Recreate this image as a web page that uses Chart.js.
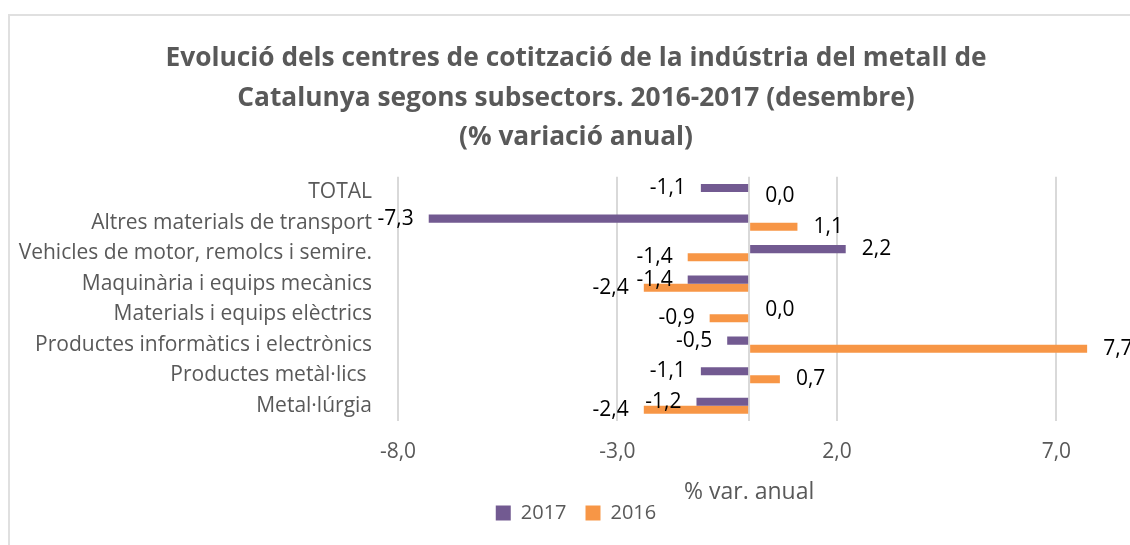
<!DOCTYPE html>
<html>
<head>
<meta charset="utf-8">
<title>Evolució dels centres de cotització</title>
<script src="https://cdn.jsdelivr.net/npm/chart.js@4.4.1/dist/chart.umd.min.js"></script>
<style>
    html, body { margin: 0; padding: 0; background: #fff; overflow: hidden; }
    #frame { position: absolute; left: 8px; top: 14px; width: 1150px; height: 600px; border: 2px solid #e0e0e0; }
    #wrap { position: absolute; left: 10px; top: 16px; width: 1132px; height: 529px; }
</style>
</head>
<body>
<div id="frame"></div>
<div id="wrap"><canvas id="chart"></canvas></div>
<script>
// Chart data
const categories = [
    'TOTAL',
    'Altres materials de transport',
    'Vehicles de motor, remolcs i semire.',
    'Maquinària i equips mecànics',
    'Materials i equips elèctrics',
    'Productes informàtics i electrònics',
    'Productes metàl·lics ',
    'Metal·lúrgia'
];
const values2017 = [-1.1, -7.3, 2.2, -1.4, 0.0, -0.5, -1.1, -1.2];
const values2016 = [0.0, 1.1, -1.4, -2.4, -0.9, 7.7, 0.7, -2.4];
const gridValues = [-8, -3, 0, 2, 7];   // vertical lines (0 = category axis)
const tickLabels = [-8, -3, 2, 7];      // labelled ticks
const titleLines = [
    'Evolució dels centres de cotització de la indústria del metall de',
    'Catalunya segons subsectors. 2016-2017 (desembre)',
    '(% variació anual)'
];
const xAxisTitle = '% var. anual';

const fmt = v => v.toFixed(1).replace('.', ',');
const FONT = '"Open Sans", sans-serif';
const GREY = '#595959';

// Draw value labels at the end of each bar, and the axis title under the -8..8 span
const barLabels = {
    id: 'barLabels',
    afterDatasetsDraw(chart) {
        const ctx = chart.ctx;
        ctx.save();
        ctx.font = '21px ' + FONT;
        ctx.fillStyle = '#000';
        ctx.textBaseline = 'middle';
        chart.data.datasets.forEach((ds, i) => {
            chart.getDatasetMeta(i).data.forEach((bar, j) => {
                const v = ds.data[j];
                if (v < 0) {
                    ctx.textAlign = 'right';
                    ctx.fillText(fmt(v), bar.x - 15, bar.y);
                } else {
                    ctx.textAlign = 'left';
                    ctx.fillText(fmt(v), bar.x + 16, bar.y);
                }
            });
        });

        const x = chart.scales.x;
        ctx.font = '23px ' + FONT;
        ctx.fillStyle = GREY;
        ctx.textAlign = 'center';
        ctx.fillText(xAxisTitle, x.getPixelForValue(0), x.bottom + 8);
        ctx.restore();
    }
};

document.addEventListener("DOMContentLoaded", () => {
    const ctx = document.getElementById('chart').getContext('2d');
    new Chart(ctx, {
        type: 'bar',
        data: {
            labels: categories,
            datasets: [
                { label: '2017', data: values2017, backgroundColor: '#725a91' },
                { label: '2016', data: values2016, backgroundColor: '#f79646' }
            ]
        },
        options: {
            indexAxis: 'y',
            responsive: true,
            maintainAspectRatio: false,
            animation: false,
            categoryPercentage: 0.53,
            barPercentage: 1.0,
            layout: { padding: { left: 0, right: 0, top: 0, bottom: 12 } },
            plugins: {
                title: {
                    display: true,
                    text: titleLines,
                    color: GREY,
                    font: { family: FONT, size: 26.3, weight: 'bold', lineHeight: 1.5 },
                    padding: { top: 23, bottom: 19.5 }
                },
                legend: {
                    position: 'bottom',
                    labels: {
                        color: GREY,
                        font: { family: FONT, size: 20 },
                        boxWidth: 15,
                        boxHeight: 15,
                        padding: 19
                    }
                },
                tooltip: { enabled: false }
            },
            scales: {
                x: {
                    min: -8,
                    max: 8.95,
                    afterBuildTicks: axis => { axis.ticks = gridValues.map(v => ({ value: v })); },
                    afterFit: scale => { scale.height = 63; },
                    grid: { color: '#d9d9d9', lineWidth: 2, drawTicks: false },
                    border: { display: false },
                    ticks: {
                        color: GREY,
                        font: { family: FONT, size: 21 },
                        padding: 18,
                        callback: v => tickLabels.includes(v) ? fmt(v) : ''
                    }
                },
                y: {
                    afterFit: scale => { scale.width = 388; },
                    grid: { display: false, drawTicks: false },
                    border: { display: false },
                    ticks: {
                        color: GREY,
                        font: { family: FONT, size: 21 },
                        padding: 26
                    }
                }
            }
        },
        plugins: [barLabels]
    });
});
</script>
</body>
</html>
